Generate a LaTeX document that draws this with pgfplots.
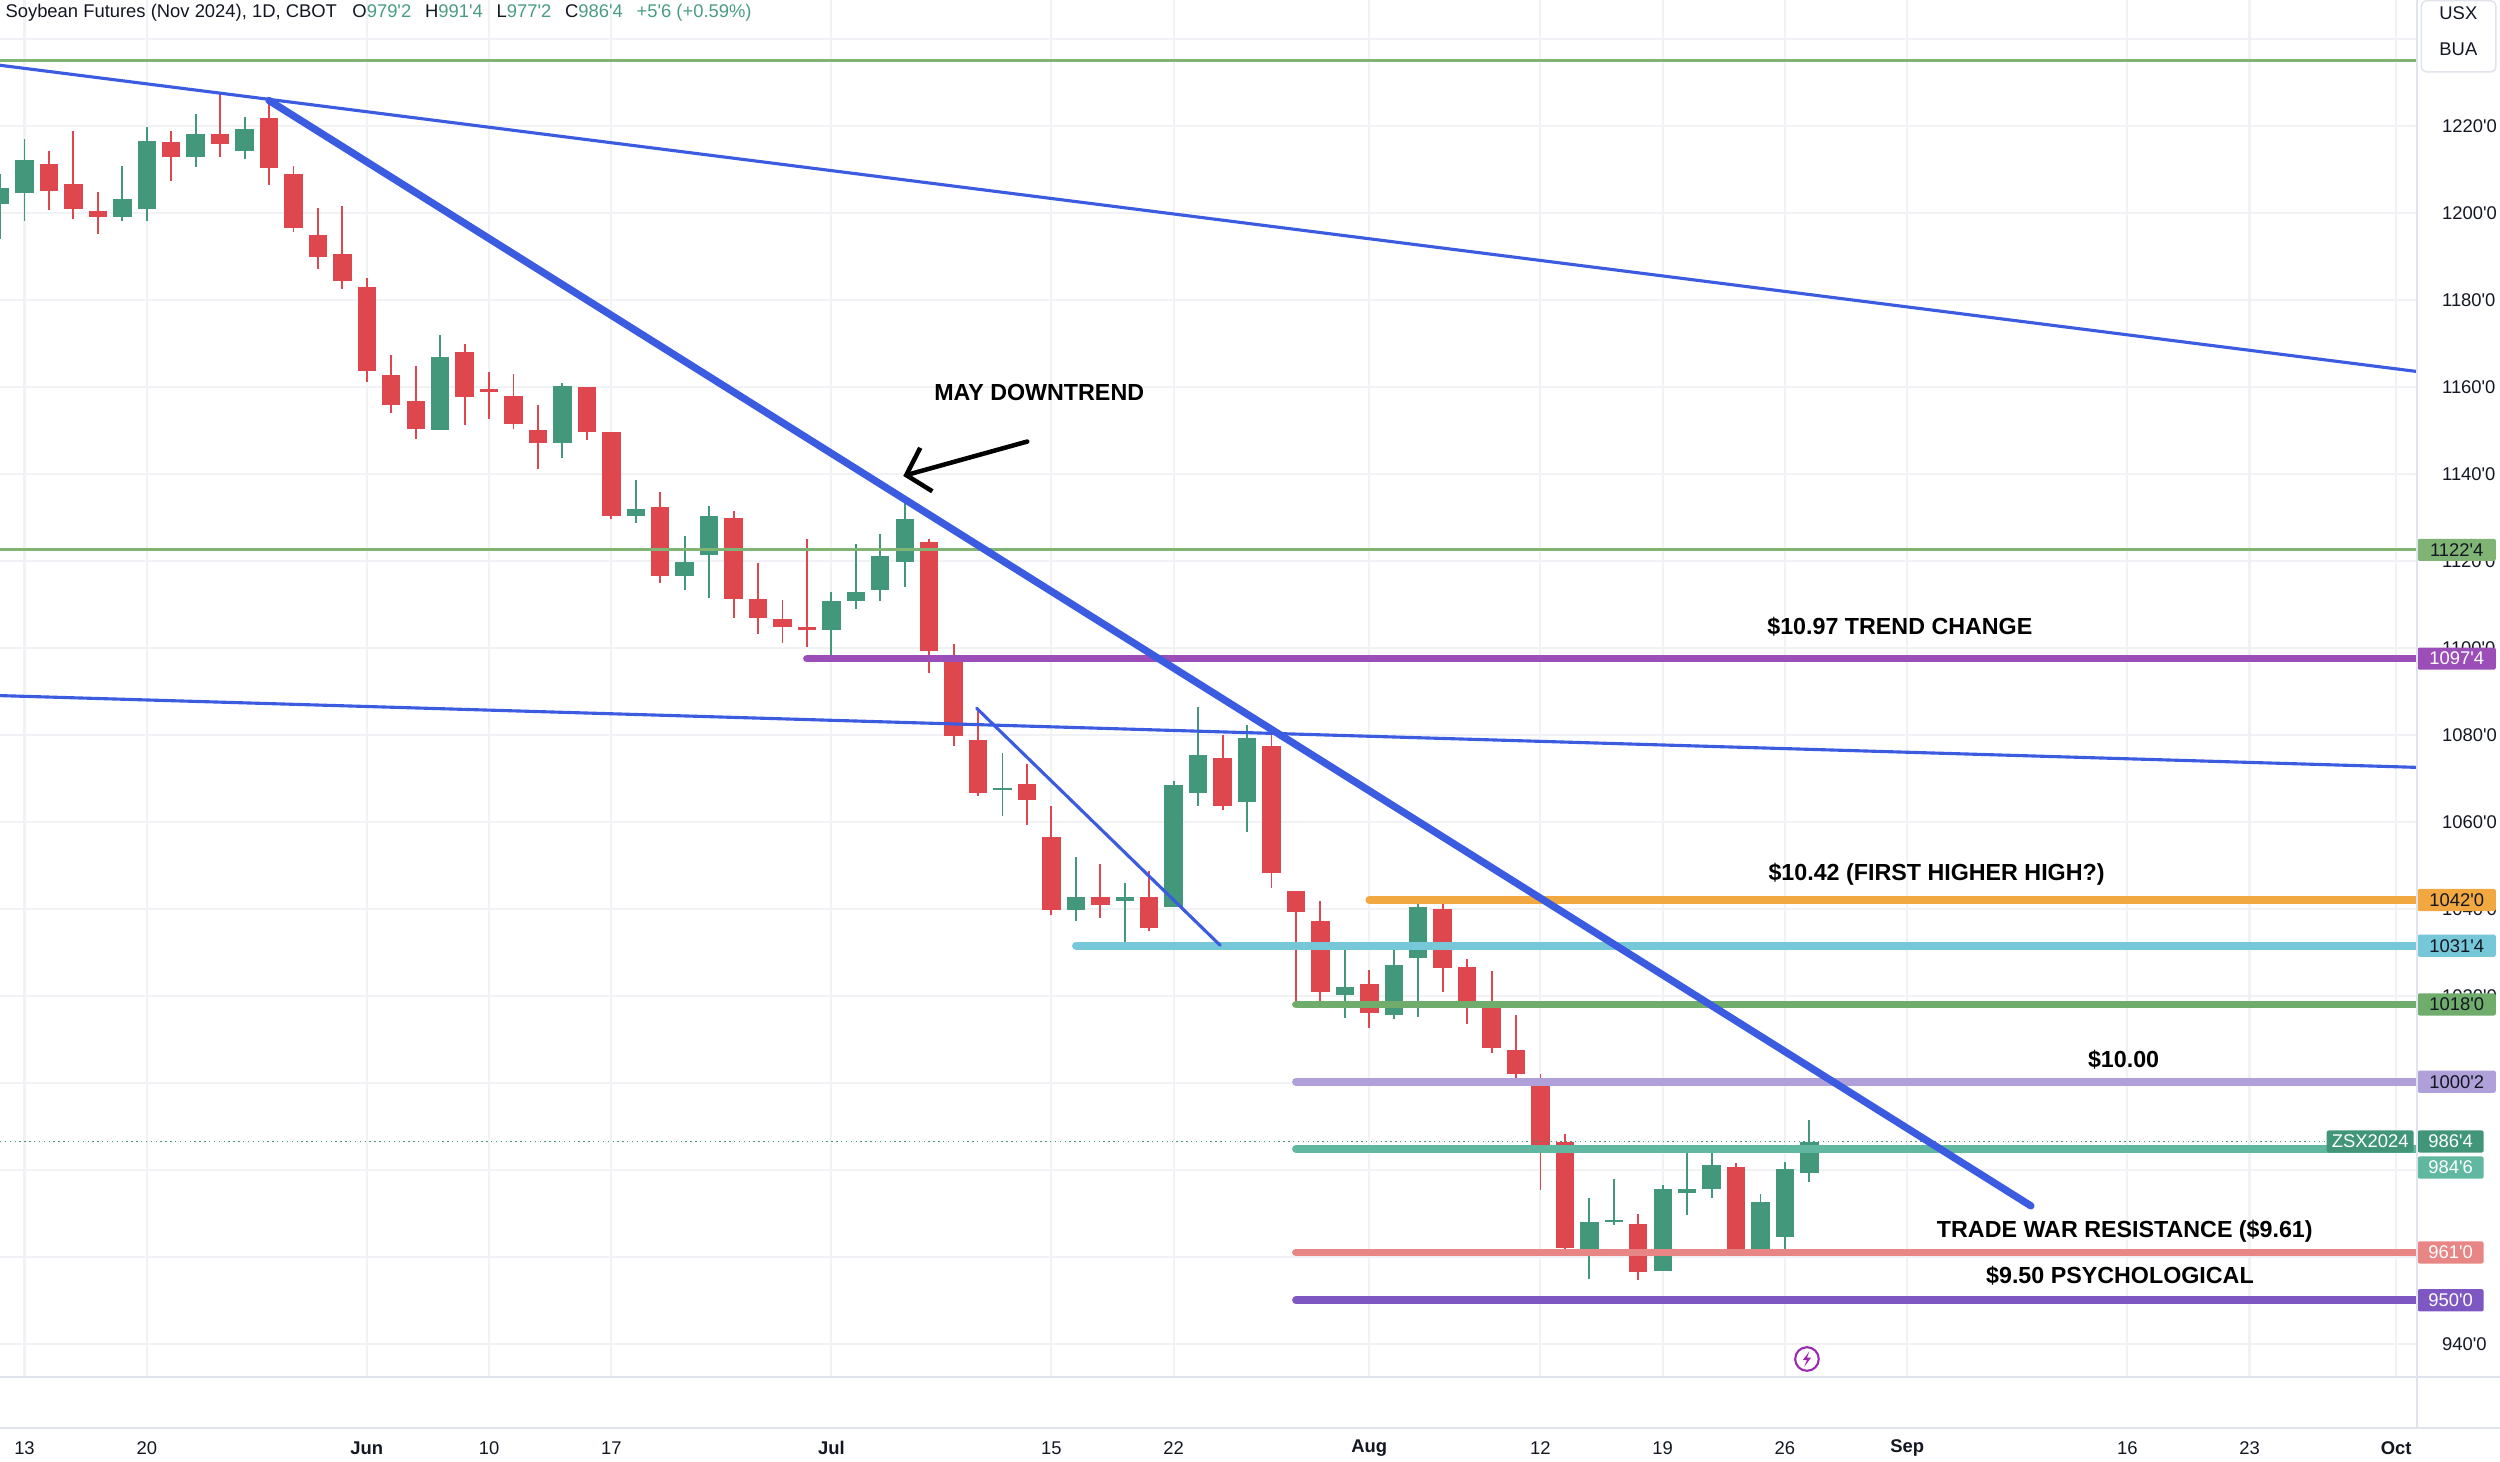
\documentclass[border=0pt]{standalone}
\usepackage{fontspec}
\setmainfont{Liberation Sans}
\usepackage{pgfplots}
\pgfplotsset{compat=1.18}
\usepackage{pgfplotstable}
\usetikzlibrary{arrows.meta}

\definecolor{cup}{RGB}{67,151,123}
\definecolor{cdn}{RGB}{223,71,79}
\definecolor{tblue}{RGB}{59,91,224}
\definecolor{lgreen}{RGB}{128,180,116}
\definecolor{lvpurple}{RGB}{155,78,184}
\definecolor{lvorange}{RGB}{241,168,64}
\definecolor{lvcyan}{RGB}{118,200,216}
\definecolor{lvgreen}{RGB}{112,172,108}
\definecolor{lvlav}{RGB}{176,160,218}
\definecolor{lvteal}{RGB}{96,184,160}
\definecolor{lvpink}{RGB}{232,134,134}
\definecolor{lvviolet}{RGB}{126,87,194}
\definecolor{tvtext}{RGB}{19,23,34}
\definecolor{tvgrid}{RGB}{240,242,246}
\definecolor{tvsep}{RGB}{224,227,235}
\definecolor{tvval}{RGB}{74,158,128}
\definecolor{tagteal}{RGB}{65,150,122}
\definecolor{iconpurple}{RGB}{156,39,176}

\newcommand{\tf}{\fontsize{5.3}{6.3}\selectfont}
\newcommand{\lf}{\fontsize{6.7}{8}\selectfont\bfseries}
\newcommand{\q}{\textquotesingle}

\pgfplotstableread{
x o h l c
-1 1202.0 1208.8 1193.9 1205.6
0 1204.6 1216.9 1198.2 1212.1
4 1199.0 1210.8 1198.2 1203.1
5 1200.9 1219.8 1198.2 1216.6
7 1212.8 1222.8 1210.4 1218.2
9 1214.3 1222.1 1212.4 1219.3
17 1150.0 1172.0 1150.0 1166.9
22 1147.1 1160.9 1143.6 1160.2
25 1130.3 1138.5 1128.6 1132.0
27 1116.4 1125.7 1113.3 1119.8
28 1121.4 1132.6 1111.5 1130.3
33 1104.0 1112.9 1097.5 1110.8
34 1110.7 1123.9 1108.8 1112.9
35 1113.2 1126.1 1110.7 1121.2
36 1119.7 1133.3 1113.9 1129.7
40 1067.5 1075.7 1061.3 1067.7
43 1039.7 1051.8 1037.1 1042.8
45 1041.7 1045.9 1031.6 1042.8
47 1040.4 1069.4 1040.4 1068.5
48 1066.7 1086.4 1063.6 1075.3
50 1064.6 1082.2 1057.6 1079.2
54 1020.1 1030.7 1014.8 1022.1
56 1015.6 1031.8 1014.6 1027.0
57 1028.7 1041.1 1015.2 1040.4
64 960.4 973.6 955.0 968.0
65 968.0 977.8 967.2 968.4
67 956.8 976.5 956.8 975.6
68 974.6 983.8 969.6 975.6
69 975.6 983.8 973.6 981.2
71 961.6 974.5 961.6 972.6
72 964.6 981.8 960.4 980.3
73 979.25 991.5 977.25 986.5
}\candUp

\pgfplotstableread{
x o h l c
1 1211.3 1214.2 1200.7 1205.0
2 1206.5 1218.7 1198.5 1200.9
3 1200.5 1204.7 1195.2 1199.0
6 1216.2 1218.7 1207.3 1212.8
8 1218.2 1227.8 1212.7 1215.9
10 1221.7 1224.9 1206.3 1210.3
11 1208.8 1210.7 1195.6 1196.6
12 1194.9 1201.0 1187.0 1189.9
13 1190.4 1201.5 1182.5 1184.3
14 1183.0 1185.1 1161.1 1163.6
15 1162.8 1167.3 1154.0 1155.8
16 1156.8 1164.8 1148.1 1150.3
18 1168.0 1169.9 1151.3 1157.7
19 1159.3 1163.3 1152.6 1159.0
20 1157.9 1163.0 1150.3 1151.5
21 1150.0 1155.9 1141.1 1147.1
23 1159.9 1159.9 1147.8 1149.7
24 1149.7 1149.7 1129.6 1130.2
26 1132.4 1135.9 1114.9 1116.6
29 1129.9 1131.5 1106.9 1111.3
30 1111.2 1119.4 1103.1 1106.8
31 1106.7 1110.9 1101.1 1104.7
32 1104.8 1124.9 1100.2 1104.0
37 1124.3 1124.9 1094.1 1099.3
38 1097.7 1100.8 1077.4 1079.7
39 1078.9 1086.1 1065.9 1066.7
41 1068.6 1073.3 1059.3 1065.0
42 1056.6 1063.7 1038.6 1039.7
44 1042.8 1050.2 1037.9 1040.8
46 1042.8 1048.7 1034.9 1035.5
49 1074.7 1079.9 1062.7 1063.6
51 1077.5 1080.0 1044.8 1048.2
52 1044.2 1044.2 1017.9 1039.2
53 1037.3 1041.7 1018.1 1020.9
55 1022.6 1026.0 1012.7 1016.1
58 1040.0 1041.1 1020.8 1026.4
59 1026.5 1028.4 1013.6 1018.4
60 1017.7 1025.6 1006.8 1007.9
61 1007.6 1015.5 1001.0 1002.0
62 1000.8 1002.1 975.3 985.7
63 986.3 988.2 960.4 962.1
66 967.5 969.9 954.7 956.6
70 980.6 981.6 960.2 961.0
}\candDn

\newcommand{\pricetag}[5]{%
  \node[anchor=west, fill=#2, text=#3, minimum width=#5, minimum height=6.4pt,
        inner sep=0pt, rounded corners=0.6pt, font=\tf] at (axis cs:97.85,#1) {#4};}
\newcommand{\ylab}[2]{%
  \node[anchor=west, text=tvtext, font=\tf, xshift=3.7pt] at (axis cs:97.85,#1) {#2};}
\newcommand{\dlab}[2]{%
  \node[text=tvtext, font=\tf, yshift=-20.4pt] at (axis cs:#1,932.34) {#2};}

\pgfplotsset{candle/.style={only marks, mark=*, mark size=0pt,
  mark options={draw=none, fill=none}, forget plot,
  error bars/y dir=both, error bars/y explicit, error bars/error mark=none}}

\begin{document}
\begin{tikzpicture}
\path[use as bounding box, fill=white] (0pt,0pt) rectangle (720pt,-420.8pt);
\begin{axis}[at={(0pt,0pt)}, anchor=north west, scale only axis,
  width=696.1pt, height=396.6pt,
  xmin=-1.002, xmax=97.85, ymin=932.34, ymax=1248.9,
  axis line style={draw=none},
  xtick={0,5,14,19,24,33,42,47,55,62,67,72,77,86,91,97},
  ytick={940,960,...,1240},
  xticklabels={}, yticklabels={},
  major tick length=0pt,
  grid=major, grid style={draw=tvgrid, line width=0.6pt},
  clip mode=individual]

% wicks
\addplot[candle, error bars/error bar style={line width=0.55pt, draw=cup, solid}]
  table[x=x, y expr={(\thisrow{h}+\thisrow{l})/2}, y error expr={(\thisrow{h}-\thisrow{l})/2}] {\candUp};
\addplot[candle, error bars/error bar style={line width=0.55pt, draw=cdn, solid}]
  table[x=x, y expr={(\thisrow{h}+\thisrow{l})/2}, y error expr={(\thisrow{h}-\thisrow{l})/2}] {\candDn};
% bodies
\addplot[candle, error bars/error bar style={line width=5.3pt, draw=cup, solid}]
  table[x=x, y expr={(\thisrow{o}+\thisrow{c})/2}, y error expr={max(abs(\thisrow{o}-\thisrow{c})/2,0.25)}] {\candUp};
\addplot[candle, error bars/error bar style={line width=5.3pt, draw=cdn, solid}]
  table[x=x, y expr={(\thisrow{o}+\thisrow{c})/2}, y error expr={max(abs(\thisrow{o}-\thisrow{c})/2,0.25)}] {\candDn};

% horizontal levels
\addplot[lgreen, line width=0.9pt] coordinates {(-1.002,1235.0) (97.85,1235.0)};
\addplot[lgreen, line width=0.9pt] coordinates {(-1.002,1122.5) (97.85,1122.5)};
\addplot[tagteal, densely dotted, line width=0.4pt] coordinates {(-1.002,986.5) (97.85,986.5)};
\addplot[lvpurple, line width=2.2pt, line cap=round] coordinates {(32,1097.5) (98.5,1097.5)};
\addplot[lvorange, line width=2.2pt, line cap=round] coordinates {(55,1042) (98.5,1042)};
\addplot[lvcyan, line width=2.2pt, line cap=round] coordinates {(43,1031.5) (98.5,1031.5)};
\addplot[lvgreen, line width=2.2pt, line cap=round] coordinates {(52,1018) (98.5,1018)};
\addplot[lvlav, line width=2.2pt, line cap=round] coordinates {(52,1000.25) (98.5,1000.25)};
\addplot[lvteal, line width=2.2pt, line cap=round] coordinates {(52,984.75) (98.5,984.75)};
\addplot[lvpink, line width=2.2pt, line cap=round] coordinates {(52,961) (98.5,961)};
\addplot[lvviolet, line width=2.2pt, line cap=round] coordinates {(52,950) (98.5,950)};

% trend lines
\addplot[tblue, line width=0.9pt] coordinates {(-1.002,1233.9) (97.85,1163.5)};
\addplot[tblue, line width=0.9pt] coordinates {(-1.002,1089.0) (97.85,1072.5)};
\addplot[tblue, line width=0.9pt, line cap=round] coordinates {(38.94,1086.1) (48.9,1031.6)};
\addplot[tblue, line width=2.1pt, line cap=round] coordinates {(10,1225.8) (82.06,971.7)};

% arrow
\draw[line width=1.3pt, line cap=round, -{Straight Barb[length=6pt,width=13pt]}]
  (axis cs:41.01,1147.4) -- (axis cs:35.94,1139.5);

% annotations
\node[font=\lf, text=black] at (axis cs:41.5,1158.7) {MAY DOWNTREND};
\node[font=\lf, text=black] at (axis cs:76.7,1104.8) {\$10.97 TREND CHANGE};
\node[font=\lf, text=black] at (axis cs:78.2,1048.0) {\$10.42 (FIRST HIGHER HIGH?)};
\node[font=\lf, text=black] at (axis cs:85.85,1005.4) {\$10.00};
\node[font=\lf, text=black] at (axis cs:85.9,965.8) {TRADE WAR RESISTANCE (\$9.61)};
\node[font=\lf, text=black] at (axis cs:85.7,955.6) {\$9.50 PSYCHOLOGICAL};

% lightning icon
\draw[iconpurple, line width=0.6pt] (axis cs:72.9,936.5) circle[radius=3.4pt];
\fill[iconpurple] ([shift={(0.7pt,2.2pt)}]axis cs:72.9,936.5) -- ++(-1.9pt,-2.5pt) -- ++(1.2pt,0pt)
  -- ++(-0.8pt,-2.0pt) -- ++(2.0pt,2.7pt) -- ++(-1.2pt,0pt) -- cycle;

% right price scale (labels hidden by tags in the reference are left out)
\ylab{940}{940\q0}
\ylab{1020}{1020\q0}
\ylab{1040}{1040\q0}
\ylab{1060}{1060\q0}
\ylab{1080}{1080\q0}
\ylab{1100}{1100\q0}
\ylab{1120}{1120\q0}
\ylab{1140}{1140\q0}
\ylab{1160}{1160\q0}
\ylab{1180}{1180\q0}
\ylab{1200}{1200\q0}
\ylab{1220}{1220\q0}

\pricetag{1122.5}{lgreen}{tvtext}{1122\q4}{22.5pt}
\pricetag{1097.5}{lvpurple}{white}{1097\q4}{22.5pt}
\pricetag{1042}{lvorange}{tvtext}{1042\q0}{22.5pt}
\pricetag{1031.5}{lvcyan}{tvtext}{1031\q4}{22.5pt}
\pricetag{1018}{lvgreen}{tvtext}{1018\q0}{22.5pt}
\pricetag{1000.25}{lvlav}{tvtext}{1000\q2}{22.5pt}
\pricetag{986.5}{tagteal}{white}{986\q4}{19pt}
\pricetag{980.5}{lvteal}{white}{984\q6}{19pt}
\pricetag{961}{lvpink}{white}{961\q0}{19pt}
\pricetag{950}{lvviolet}{white}{950\q0}{19pt}
\node[anchor=east, fill=tagteal, text=white, minimum width=25pt, minimum height=6.4pt,
  inner sep=0pt, rounded corners=0.6pt, font=\tf, xshift=-0.8pt] at (axis cs:97.85,986.5) {ZSX2024};

% dates
\dlab{0}{13}
\dlab{5}{20}
\dlab{14}{\textbf{Jun}}
\dlab{19}{10}
\dlab{24}{17}
\dlab{33}{\textbf{Jul}}
\dlab{42}{15}
\dlab{47}{22}
\dlab{55}{\textbf{Aug}}
\dlab{62}{12}
\dlab{67}{19}
\dlab{72}{26}
\dlab{77}{\textbf{Sep}}
\dlab{86}{16}
\dlab{91}{23}
\dlab{97}{\textbf{Oct}}
\end{axis}

% frame lines
\draw[tvsep, line width=0.5pt] (0pt,-396.6pt) -- (720pt,-396.6pt);
\draw[tvsep, line width=0.5pt] (0pt,-411.3pt) -- (720pt,-411.3pt);
\draw[tvsep, line width=0.5pt] (696.1pt,0pt) -- (696.1pt,-411.3pt);

% USX / BUA box
\draw[tvsep, fill=white, rounded corners=1.5pt, line width=0.4pt] (697.3pt,-0.2pt) rectangle (718.8pt,-20.7pt);
\node[font=\tf, text=tvtext] at (708pt,-3.8pt) {USX};
\node[font=\tf, text=tvtext] at (708pt,-14.1pt) {BUA};

% title
\node[anchor=west, font=\tf, text=tvtext, inner sep=0pt] at (1.4pt,-3.8pt)
  {Soybean Futures (Nov 2024), 1D, CBOT\hspace{3pt} O\textcolor{tvval}{979\q2}\hspace{2.5pt} H\textcolor{tvval}{991\q4}\hspace{2.5pt} L\textcolor{tvval}{977\q2}\hspace{2.5pt} C\textcolor{tvval}{986\q4}\hspace{2.5pt} \textcolor{tvval}{+5\q6 (+0.59\%)}};
\end{tikzpicture}
\end{document}
